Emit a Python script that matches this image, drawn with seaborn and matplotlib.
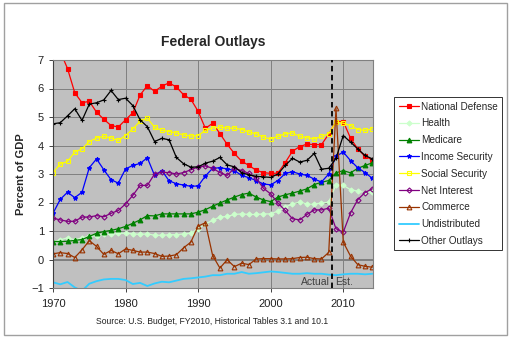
import matplotlib
matplotlib.use("Agg")
import matplotlib.pyplot as plt
import seaborn as sns
import pandas as pd
from matplotlib.patches import Rectangle

years = list(range(1970, 2015))

national_defense = [8.1, 7.3, 6.7, 5.85, 5.5, 5.55, 5.17, 4.92, 4.7, 4.65, 4.9, 5.15, 5.77, 6.1, 5.9,
                    6.08, 6.2, 6.05, 5.78, 5.62, 5.2, 4.6, 4.78, 4.42, 4.04, 3.72, 3.45, 3.3, 3.13, 3.05,
                    3.02, 3.03, 3.4, 3.8, 3.96, 4.05, 4.03, 4.03, 4.4, 4.84, 4.84, 4.26, 3.88, 3.62, 3.5]
health = [0.61, 0.69, 0.76, 0.69, 0.76, 0.81, 0.84, 0.88, 0.88, 0.92, 0.92, 0.9, 0.88, 0.9, 0.85,
          0.85, 0.87, 0.87, 0.9, 0.92, 1.08, 1.25, 1.37, 1.49, 1.51, 1.58, 1.6, 1.58, 1.58, 1.6,
          1.6, 1.7, 1.84, 1.95, 2.01, 1.95, 1.95, 1.98, 2.01, 2.62, 2.6, 2.45, 2.4, 2.35, 2.38]
medicare = [0.63, 0.63, 0.64, 0.67, 0.7, 0.81, 0.92, 0.98, 1.02, 1.08, 1.16, 1.27, 1.39, 1.54, 1.53,
            1.6, 1.6, 1.6, 1.6, 1.6, 1.66, 1.75, 1.87, 1.98, 2.09, 2.19, 2.28, 2.33, 2.19, 2.09,
            2.03, 2.19, 2.27, 2.33, 2.4, 2.48, 2.63, 2.71, 2.77, 3.04, 3.12, 3.04, 3.2, 3.3, 3.39]
income_security = [1.62, 2.11, 2.36, 2.17, 2.36, 3.22, 3.53, 3.15, 2.8, 2.68, 3.18, 3.3, 3.37, 3.57, 2.95,
                   3.12, 2.76, 2.66, 2.61, 2.57, 2.58, 2.93, 3.2, 3.22, 3.18, 3.12, 2.95, 2.87, 2.77, 2.65,
                   2.62, 2.77, 3.02, 3.08, 3.0, 2.95, 2.82, 2.72, 3.0, 3.62, 3.77, 3.47, 3.22, 3.05, 2.85]
social_security = [3.05, 3.35, 3.44, 3.77, 3.88, 4.14, 4.26, 4.32, 4.26, 4.18, 4.35, 4.58, 4.85, 4.96, 4.64,
                   4.53, 4.49, 4.44, 4.37, 4.33, 4.35, 4.53, 4.61, 4.64, 4.61, 4.61, 4.56, 4.47, 4.41, 4.29,
                   4.23, 4.32, 4.41, 4.44, 4.32, 4.27, 4.23, 4.32, 4.41, 4.82, 4.78, 4.7, 4.56, 4.53, 4.58]
net_interest = [1.45, 1.39, 1.34, 1.34, 1.49, 1.49, 1.54, 1.5, 1.62, 1.72, 1.95, 2.25, 2.6, 2.6, 3.0,
                3.06, 3.05, 3.0, 3.05, 3.15, 3.25, 3.28, 3.2, 3.05, 2.95, 3.2, 3.12, 3.02, 2.85, 2.5,
                2.3, 1.98, 1.72, 1.43, 1.39, 1.58, 1.74, 1.74, 1.8, 1.08, 0.96, 1.63, 2.1, 2.35, 2.48]
commerce = [0.2, 0.24, 0.21, 0.07, 0.34, 0.66, 0.46, 0.18, 0.32, 0.2, 0.37, 0.32, 0.26, 0.26, 0.21,
            0.11, 0.12, 0.17, 0.41, 0.61, 1.17, 1.29, 0.14, -0.3, -0.01, -0.25, -0.13, -0.18, 0.02, 0.03,
            0.03, 0.02, 0.02, 0.03, 0.07, 0.08, 0.03, 0.02, 0.25, 5.3, 0.61, 0.12, -0.18, -0.24, -0.27]
undistributed = [-0.8, -0.87, -0.79, -0.98, -1.1, -0.85, -0.76, -0.7, -0.68, -0.68, -0.72, -0.86, -0.82, -0.93, -0.84,
                 -0.78, -0.8, -0.74, -0.68, -0.66, -0.63, -0.6, -0.55, -0.55, -0.5, -0.5, -0.44, -0.5, -0.48, -0.45,
                 -0.42, -0.44, -0.47, -0.5, -0.5, -0.48, -0.5, -0.5, -0.53, -0.55, -0.52, -0.5, -0.5, -0.52, -0.5]
other_outlays = [4.76, 4.8, 5.04, 5.29, 4.88, 5.45, 5.5, 5.6, 5.93, 5.61, 5.66, 5.4, 4.9, 4.66, 4.14,
                 4.25, 4.2, 3.58, 3.36, 3.24, 3.25, 3.38, 3.45, 3.58, 3.32, 3.25, 3.05, 2.97, 2.92, 2.9,
                 2.88, 3.0, 3.3, 3.55, 3.42, 3.48, 3.72, 3.17, 3.2, 3.55, 4.35, 4.12, 3.88, 3.65, 3.53]

series = [
    ("National Defense", national_defense),
    ("Health", health),
    ("Medicare", medicare),
    ("Income Security", income_security),
    ("Social Security", social_security),
    ("Net Interest", net_interest),
    ("Commerce", commerce),
    ("Undistributed", undistributed),
    ("Other Outlays", other_outlays),
]

styles = {
    "National Defense": dict(color="#FF0000", marker="s", mfc="#FF0000", ms=3.3),
    "Health": dict(color="#CCFFCC", marker="D", mfc="#CCFFCC", ms=2.6),
    "Medicare": dict(color="#008000", marker="^", mfc="#008000", ms=3.4),
    "Income Security": dict(color="#0000FF", marker="*", mfc="#0000FF", ms=3.2),
    "Social Security": dict(color="#FFFF00", marker="s", mfc="none", ms=3.3),
    "Net Interest": dict(color="#800080", marker="D", mfc="none", ms=2.6),
    "Commerce": dict(color="#993300", marker="^", mfc="none", ms=3.4),
    "Undistributed": dict(color="#33CCFF", marker=None, mfc="none", ms=0),
    "Other Outlays": dict(color="#000000", marker="+", mfc="none", ms=3.5),
}

rows = []
for name, vals in series:
    for y, v in zip(years, vals):
        rows.append({"Year": y, "Value": v, "Series": name})
df = pd.DataFrame(rows)

sns.set_theme(style="white")
plt.rcParams["font.family"] = ["Liberation Sans", "DejaVu Sans"]

fig = plt.figure(figsize=(5.12, 3.41), dpi=100)
fig.patch.set_facecolor("white")
ax = fig.add_axes([53 / 512, 1 - 288 / 341, 320 / 512, 228 / 341])
ax.set_facecolor("#C0C0C0")

for name, _ in series:
    st = styles[name]
    sub = df[df["Series"] == name]
    kw = dict(color=st["color"], linewidth=0.9, label=name)
    if st["marker"]:
        kw.update(marker=st["marker"], markersize=st["ms"], markerfacecolor=st["mfc"],
                  markeredgecolor=st["color"], markeredgewidth=0.8)
    else:
        kw.update(linewidth=1.3)
    sns.lineplot(data=sub, x="Year", y="Value", ax=ax, **kw)

ax.set_xlim(1970, 2014.1)
ax.set_ylim(-1, 7)
ax.set_xticks([1970, 1980, 1990, 2000, 2010])
ax.set_yticks(range(-1, 8))
ax.grid(True, color="#808080", linewidth=0.7)
ax.set_axisbelow(True)
ax.axhline(0, color="#808080", linewidth=1.4, zorder=1.5)
ax.axvline(2008.5, color="black", linestyle=(0, (3, 2)), linewidth=1.3, zorder=5)
ax.text(2008.2, -0.78, "Actual", ha="right", va="center", fontsize=7.5, color="#404040")
ax.text(2008.9, -0.78, "Est.", ha="left", va="center", fontsize=7.5, color="#404040")

for sp in ax.spines.values():
    sp.set_color("#808080")
    sp.set_linewidth(0.8)
ax.spines["left"].set_color("#404040")
ax.tick_params(axis="both", labelsize=8, colors="#222222", length=3, direction="out",
               left=True, bottom=True, width=0.6)
ax.tick_params(axis="x", pad=5)
ax.set_xlabel("")
ax.set_ylabel("Percent of GDP", fontsize=8, fontweight="bold", labelpad=4)
ax.set_title("Federal Outlays", fontsize=10, fontweight="bold", pad=10)

leg = ax.legend(loc="upper left", bbox_to_anchor=(394 / 512, 1 - 97 / 341),
                bbox_transform=fig.transFigure, fontsize=7.2, frameon=True,
                fancybox=False, edgecolor="black", handlelength=2.0, labelspacing=0.68,
                borderpad=0.45, handletextpad=0.25, borderaxespad=0.0)
leg.get_frame().set_linewidth(0.7)

fig.text(212 / 512, 1 - 322 / 341, "Source: U.S. Budget, FY2010, Historical Tables 3.1 and 10.1",
         ha="center", va="center", fontsize=6.2, color="#222222")

fig.patches.append(Rectangle((4 / 512, 1 - 335 / 341), 503 / 512, 332 / 341,
                             transform=fig.transFigure, fill=False, edgecolor="#A0A0A0",
                             linewidth=1.0))

fig.savefig("out.png", dpi=100)
